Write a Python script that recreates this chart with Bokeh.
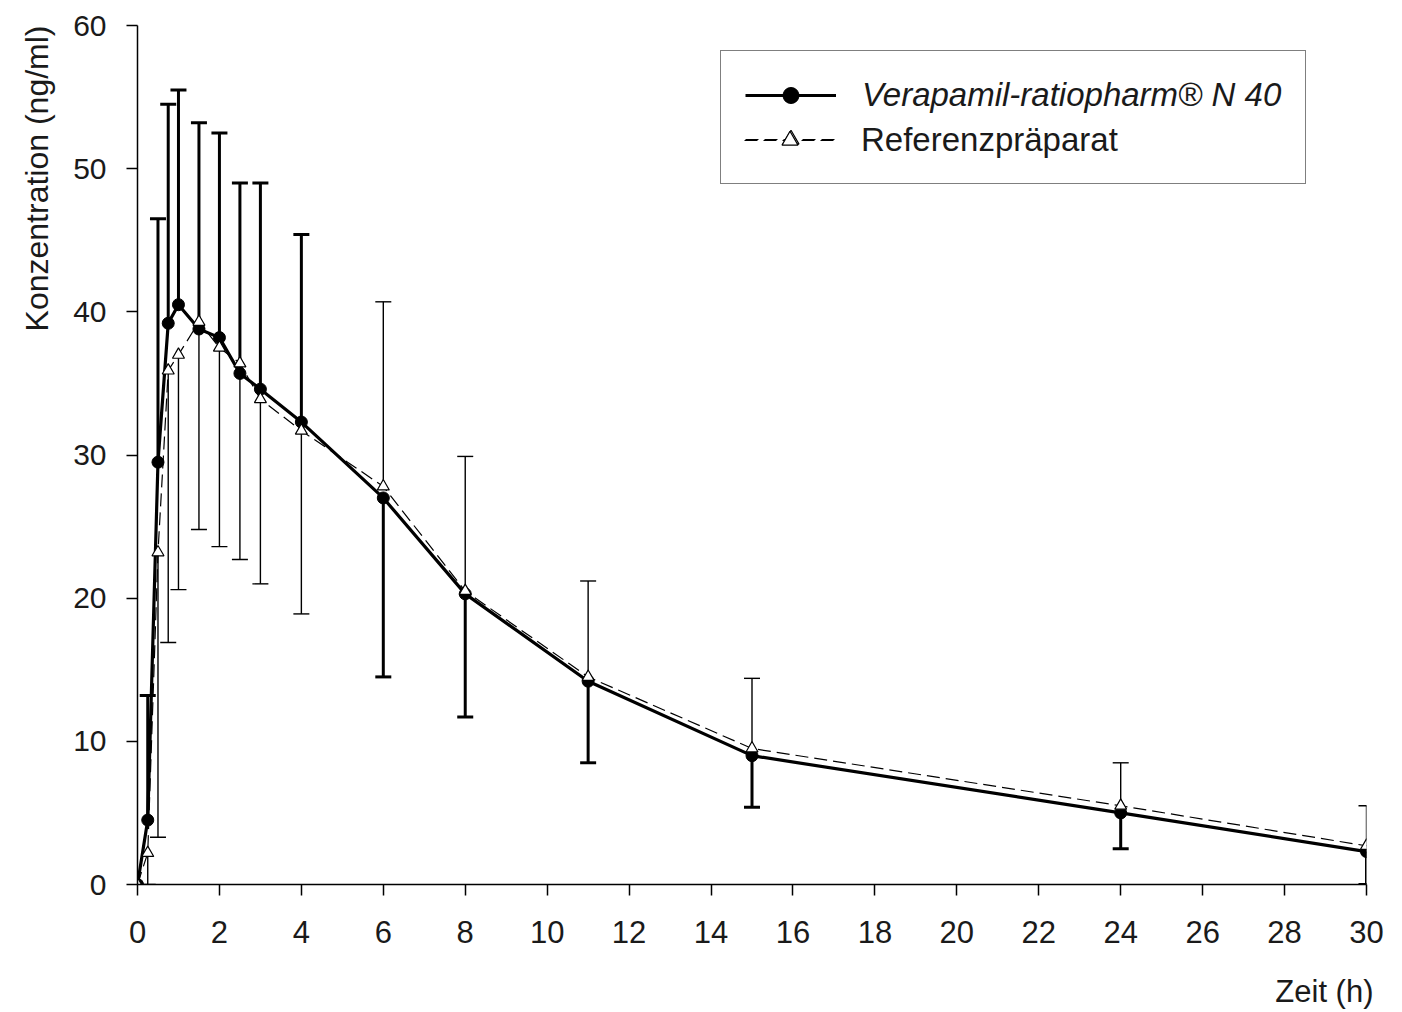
import numpy as np
from bokeh.plotting import figure
from bokeh.models import (Range1d, FixedTicker, Whisker, TeeHead, ColumnDataSource,
                          Legend, LegendItem, Title)
from bokeh.embed import file_html
from bokeh.resources import INLINE

# ---------------- data ----------------
time_h = [0, 0.25, 0.5, 0.75, 1, 1.5, 2, 2.5, 3, 4, 6, 8, 11, 15, 24, 30]
verapamil_mean = [0, 4.5, 29.5, 39.2, 40.5, 38.8, 38.2, 35.7, 34.6, 32.3,
                  27.0, 20.3, 14.2, 9.0, 5.0, 2.3]
verapamil_sd = [0, 8.7, 17.0, 15.3, 15.0, 14.4, 14.3, 13.3, 14.4, 13.1,
                12.5, 8.6, 5.7, 3.6, 2.5, 2.3]
referenz_mean = [0, 2.2, 23.2, 35.9, 37.0, 39.3, 37.5, 36.4, 33.9, 31.7,
                 27.8, 20.5, 14.5, 9.5, 5.5, 2.7]
referenz_sd = [0, 2.2, 19.9, 19.0, 16.4, 14.5, 13.9, 13.7, 12.9, 12.8,
               12.9, 9.4, 6.7, 4.9, 3.0, 2.8]
x_ticks = list(range(0, 31, 2))
y_ticks = list(range(0, 61, 10))
label_a = "Verapamil-ratiopharm® N 40"
label_b = "Referenzpräparat"
x_title = "Zeit (h)"
y_title = "Konzentration (ng/ml)"

FONT = "Liberation Sans"
TXT = "#1a1a1a"

p = figure(frame_width=1229, frame_height=859,
           min_border_left=137, min_border_right=30,
           min_border_top=25, min_border_bottom=115,
           x_range=Range1d(0, 30), y_range=Range1d(0, 60),
           output_backend="svg", toolbar_location=None,
           background_fill_color="white", border_fill_color="white")
p.outline_line_color = None
p.grid.visible = False

for ax, ticks, fs, so in ((p.xaxis, x_ticks, "31px", 25), (p.yaxis, y_ticks, "30px", 20)):
    ax.ticker = FixedTicker(ticks=ticks)
    ax.major_tick_in = 0
    ax.major_tick_out = 11
    ax.minor_tick_line_color = None
    ax.axis_line_width = 1.5
    ax.major_tick_line_width = 1.5
    ax.axis_line_color = "black"
    ax.major_tick_line_color = "black"
    ax.major_label_text_font = FONT
    ax.major_label_text_font_size = fs
    ax.major_label_text_color = TXT
    ax.major_label_standoff = so

t = np.array(time_h, dtype=float)
mA = np.array(verapamil_mean)
sA = np.array(verapamil_sd)
mB = np.array(referenz_mean)
sB = np.array(referenz_sd)
early = t <= 4


def whisker(base, lower, upper, width, head_top):
    src = ColumnDataSource(dict(base=base, lower=lower, upper=upper))
    head = TeeHead(size=16, line_width=width, line_color="black")
    w = Whisker(source=src, base="base", lower="lower", upper="upper",
                dimension="height", line_color="black", line_width=width,
                upper_head=head if head_top else None,
                lower_head=None if head_top else head)
    p.add_layout(w)


# Verapamil: bars up early, down late (thick)
mk = early & (sA > 0)
whisker(t[mk], mA[mk], mA[mk] + sA[mk], 3, True)
mk = ~early
whisker(t[mk], np.maximum(mA[mk] - sA[mk], 0), mA[mk], 3, False)
# Referenz: bars down early, up late (thin)
mk = early & (sB > 0)
whisker(t[mk], np.maximum(mB[mk] - sB[mk], 0), mB[mk], 1.4, False)
mk = ~early
whisker(t[mk], mB[mk], mB[mk] + sB[mk], 1.4, True)

lineA = p.line(t, mA, line_width=3.2, line_color="black")
scA = p.scatter(t, mA, marker="circle", size=12, fill_color="black", line_color="black")
lineB = p.line(t, mB, line_width=1.2, line_color="black", line_dash="13 6")
scB = p.scatter(t, mB, marker="triangle", size=12, fill_color="white",
                line_color="black", line_width=1.2)

LEG_X, LEG_Y, PAD, ROW, GAP = 583, 700, 24, 40, 4
common = dict(orientation="vertical", margin=0, spacing=GAP,
              glyph_width=91, glyph_height=ROW, label_height=ROW,
              label_standoff=26, label_text_font=FONT, label_text_font_size="33px",
              label_text_color=TXT)

legend = Legend(items=[LegendItem(label=label_a, renderers=[lineA, scA]),
                       LegendItem(label=" ", renderers=[lineB, scB])],
                location=(LEG_X, LEG_Y), padding=PAD,
                label_text_font_style="italic",
                border_line_color="black", border_line_width=1.5,
                background_fill_color="white", background_fill_alpha=1.0,
                **common)
p.add_layout(legend)

# second row label in upright type, laid exactly over row 2 of the box
legend2 = Legend(items=[LegendItem(label=label_b, renderers=[lineB, scB])],
                 location=(LEG_X + PAD, LEG_Y + PAD), padding=0,
                 label_text_font_style="normal",
                 border_line_color=None, background_fill_alpha=0.0,
                 **common)
p.add_layout(legend2)

p.add_layout(Title(text=x_title, align="right", text_font=FONT, text_font_size="31px",
                   text_font_style="normal", text_color=TXT, standoff=52, offset=-7),
             "below")
p.add_layout(Title(text=y_title, align="right", text_font=FONT, text_font_size="32px",
                   text_font_style="normal", text_color=TXT, standoff=31), "left")

open("out.html", "w").write(file_html(p, INLINE))
